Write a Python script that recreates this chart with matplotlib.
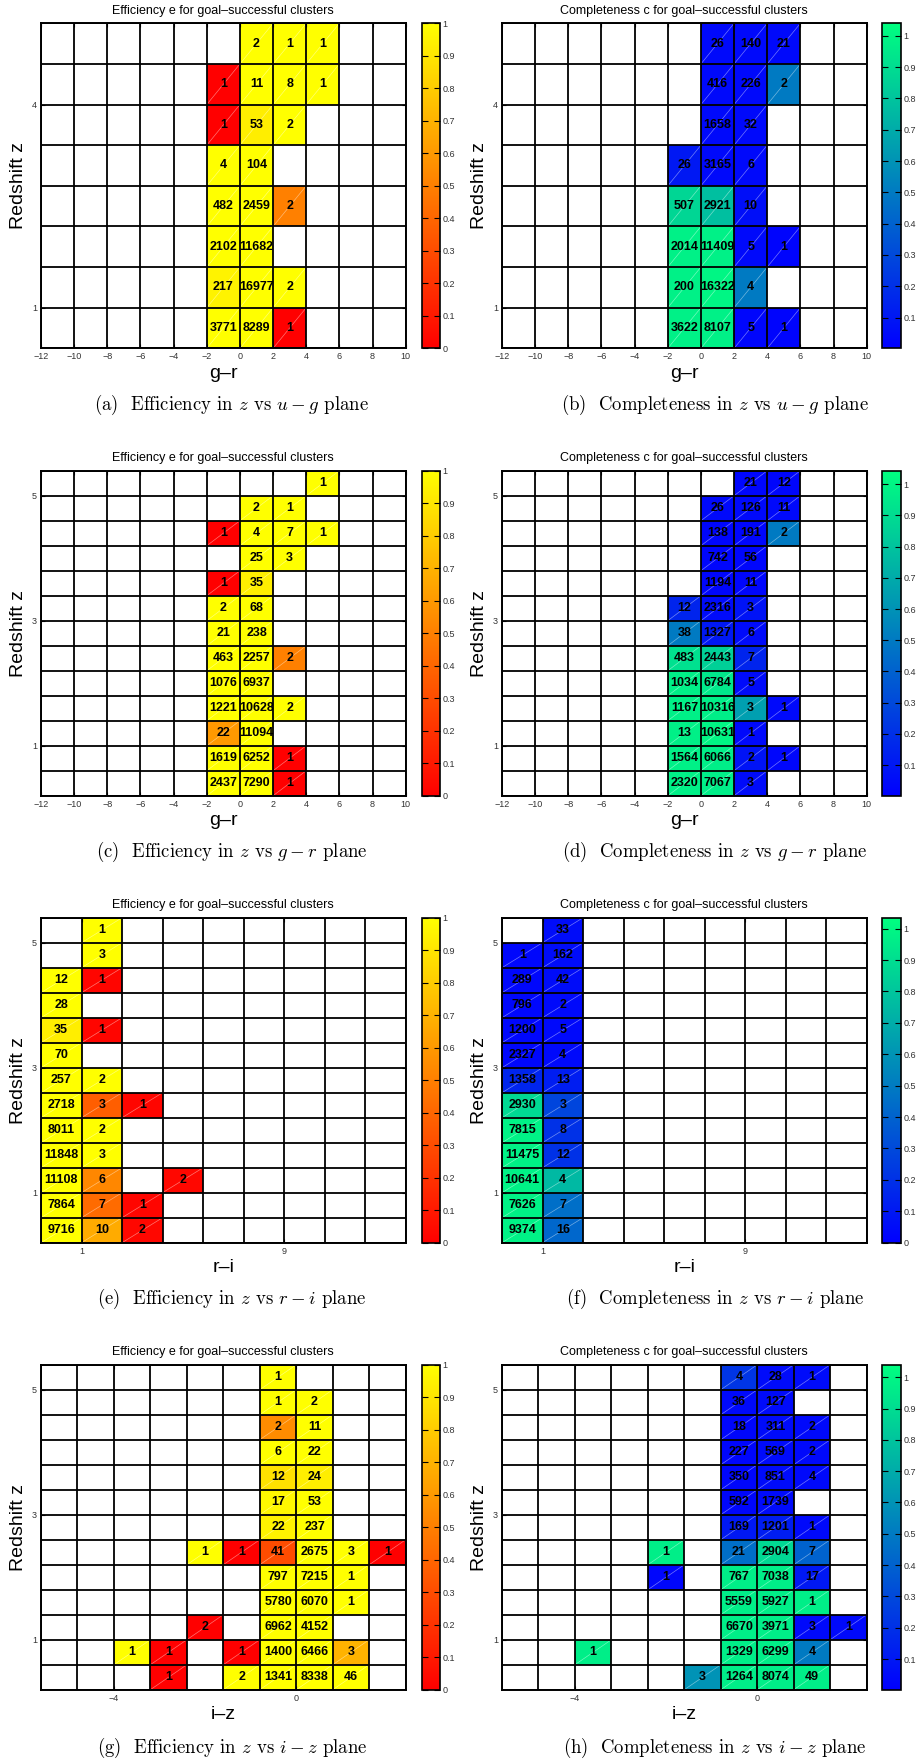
import numpy as np
import matplotlib
matplotlib.use("Agg")
import matplotlib.pyplot as plt

plt.rcParams['font.family'] = ['Liberation Sans', 'DejaVu Sans']
plt.rcParams['mathtext.fontset'] = 'cm'

# ---------------- data ----------------
# bin edges of each panel (colour on x, redshift z on y)
ug_xedges = [-12, -10, -8, -6, -4, -2, 0, 2, 4, 6, 8, 10]
ug_zedges = [0.4, 1.0, 1.6, 2.2, 2.8, 3.4, 4.0, 4.6, 5.2]
gr_xedges = [-12, -10, -8, -6, -4, -2, 0, 2, 4, 6, 8, 10]
fine_zedges = [0.2, 0.6, 1.0, 1.4, 1.8, 2.2, 2.6, 3.0, 3.4, 3.8, 4.2, 4.6, 5.0, 5.4]
ri_xedges = [-0.6, 1.0, 2.6, 4.2, 5.8, 7.4, 9.0, 10.6, 12.2, 13.8]
iz_xedges = [-5.6, -4.8, -4.0, -3.2, -2.4, -1.6, -0.8, 0.0, 0.8, 1.6, 2.4]

# populated colour bins (left edges); grids below list rows top -> bottom
ug_cols = [-2, 0, 2, 4]
gr_cols = [-2, 0, 2, 4]
ri_cols = [-0.6, 1.0, 2.6, 4.2]
iz_cols = [-4.0, -3.2, -2.4, -1.6, -0.8, 0.0, 0.8, 1.6]

# (a) efficiency, u-g
a_n = [[0, 2, 1, 1], [1, 11, 8, 1], [1, 53, 2, 0], [4, 104, 0, 0],
       [482, 2459, 2, 0], [2102, 11682, 0, 0], [217, 16977, 2, 0], [3771, 8289, 1, 0]]
a_e = [[None, 1, 1, 1], [0.0, 1, 1, 1], [0.0, 0.93, 1, None], [1, 1, None, None],
       [1, 1, 0.5, None], [1, 1, None, None], [0.95, 1, 1, None], [1, 1, 0.0, None]]

# (b) completeness, u-g
b_n = [[0, 26, 140, 21], [0, 416, 226, 2], [0, 1658, 32, 0], [26, 3165, 6, 0],
       [507, 2921, 10, 0], [2014, 11409, 5, 1], [200, 16322, 4, 0], [3622, 8107, 5, 1]]
b_c = [[None, 0.04, 0.04, 0.04], [None, 0.04, 0.04, 0.5], [None, 0.04, 0.04, None],
       [0.1, 0.04, 0.04, None], [0.87, 0.78, 0.06, None], [0.98, 0.98, 0.04, 0.02],
       [0.98, 1.0, 0.5, None], [0.98, 0.98, 0.03, 0.02]]

# (c) efficiency, g-r
c_n = [[0, 0, 0, 1], [0, 2, 1, 0], [1, 4, 7, 1], [0, 25, 3, 0], [1, 35, 0, 0],
       [2, 68, 0, 0], [21, 238, 0, 0], [463, 2257, 2, 0], [1076, 6937, 0, 0],
       [1221, 10628, 2, 0], [22, 11094, 0, 0], [1619, 6252, 1, 0], [2437, 7290, 1, 0]]
c_e = [[None, None, None, 1], [None, 1, 1, None], [0.0, 1, 1, 1], [None, 1, 1, None],
       [0.0, 0.93, None, None], [1, 1, None, None], [1, 1, None, None], [1, 1, 0.5, None],
       [1, 1, None, None], [1, 1, 1, None], [0.6, 1, None, None], [1, 1, 0.0, None],
       [1, 1, 0.0, None]]

# (d) completeness, g-r
d_n = [[0, 0, 21, 12], [0, 26, 126, 11], [0, 138, 191, 2], [0, 742, 56, 0],
       [0, 1194, 11, 0], [12, 2316, 3, 0], [38, 1327, 6, 0], [483, 2443, 7, 0],
       [1034, 6784, 5, 0], [1167, 10316, 3, 1], [13, 10631, 1, 0], [1564, 6066, 2, 1],
       [2320, 7067, 3, 0]]
d_c = [[None, None, 0.03, 0.03], [None, 0.04, 0.04, 0.04], [None, 0.03, 0.03, 0.5],
       [None, 0.03, 0.03, None], [None, 0.03, 0.03, None], [0.15, 0.05, 0.08, None],
       [0.5, 0.1, 0.05, None], [0.92, 0.85, 0.15, None], [0.98, 0.95, 0.05, None],
       [0.98, 0.97, 0.65, 0.04], [0.98, 1.0, 0.04, None], [0.98, 0.97, 0.08, 0.03],
       [0.98, 0.97, 0.05, None]]

# (e) efficiency, r-i
e_n = [[0, 1, 0, 0], [0, 3, 0, 0], [12, 1, 0, 0], [28, 0, 0, 0], [35, 1, 0, 0],
       [70, 0, 0, 0], [257, 2, 0, 0], [2718, 3, 1, 0], [8011, 2, 0, 0],
       [11848, 3, 0, 0], [11108, 6, 0, 2], [7864, 7, 1, 0], [9716, 10, 2, 0]]
e_e = [[None, 1, None, None], [None, 1, None, None], [1, 0.02, None, None],
       [1, None, None, None], [0.93, 0.02, None, None], [1, None, None, None],
       [1, 1, None, None], [1, 0.37, 0.02, None], [1, 1, None, None], [1, 1, None, None],
       [1, 0.53, None, 0.03], [1, 0.42, 0.02, None], [1, 0.67, 0.03, None]]

# (f) completeness, r-i
f_n = [[0, 33, 0, 0], [1, 162, 0, 0], [289, 42, 0, 0], [796, 2, 0, 0], [1200, 5, 0, 0],
       [2327, 4, 0, 0], [1358, 13, 0, 0], [2930, 3, 0, 0], [7815, 8, 0, 0],
       [11475, 12, 0, 0], [10641, 4, 0, 0], [7626, 7, 0, 0], [9374, 16, 0, 0]]
f_c = [[None, 0.05, None, None], [0.03, 0.05, None, None], [0.03, 0.05, None, None],
       [0.03, 0.04, None, None], [0.03, 0.04, None, None], [0.03, 0.04, None, None],
       [0.15, 0.12, None, None], [0.88, 0.28, None, None], [0.98, 0.2, None, None],
       [0.98, 0.2, None, None], [0.98, 0.75, None, None], [0.98, 0.45, None, None],
       [0.98, 0.42, None, None]]

# (g) efficiency, i-z
g_n = [[0, 0, 0, 0, 1, 0, 0, 0], [0, 0, 0, 0, 1, 2, 0, 0], [0, 0, 0, 0, 2, 11, 0, 0],
       [0, 0, 0, 0, 6, 22, 0, 0], [0, 0, 0, 0, 12, 24, 0, 0], [0, 0, 0, 0, 17, 53, 0, 0],
       [0, 0, 0, 0, 22, 237, 0, 0], [0, 0, 1, 1, 41, 2675, 3, 1],
       [0, 0, 0, 0, 797, 7215, 1, 0], [0, 0, 0, 0, 5780, 6070, 1, 0],
       [0, 0, 2, 0, 6962, 4152, 0, 0], [1, 1, 0, 1, 1400, 6466, 3, 0],
       [0, 1, 0, 2, 1341, 8338, 46, 0]]
g_e = [[None, None, None, None, 1, None, None, None],
       [None, None, None, None, 1, 1, None, None],
       [None, None, None, None, 0.55, 1, None, None],
       [None, None, None, None, 1, 1, None, None],
       [None, None, None, None, 0.88, 0.93, None, None],
       [None, None, None, None, 0.97, 1, None, None],
       [None, None, None, None, 0.95, 1, None, None],
       [None, None, 1, 0.0, 0.3, 1, 1, 0.0],
       [None, None, None, None, 1, 1, 1, None],
       [None, None, None, None, 1, 1, 1, None],
       [None, None, 0.0, None, 1, 1, None, None],
       [1, 0.0, None, 0.0, 1, 1, 0.7, None],
       [None, 0.0, None, 1, 1, 1, 1, None]]

# (h) completeness, i-z
h_n = [[0, 0, 0, 0, 4, 28, 1, 0], [0, 0, 0, 0, 36, 127, 0, 0], [0, 0, 0, 0, 18, 311, 2, 0],
       [0, 0, 0, 0, 227, 569, 2, 0], [0, 0, 0, 0, 350, 851, 4, 0],
       [0, 0, 0, 0, 592, 1739, 0, 0], [0, 0, 0, 0, 169, 1201, 1, 0],
       [0, 0, 1, 0, 21, 2904, 7, 0], [0, 0, 1, 0, 767, 7038, 17, 0],
       [0, 0, 0, 0, 5559, 5927, 1, 0], [0, 0, 0, 0, 6670, 3971, 3, 1],
       [1, 0, 0, 0, 1329, 6299, 4, 0], [0, 0, 0, 3, 1264, 8074, 49, 0]]
h_c = [[None, None, None, None, 0.22, 0.05, 0.05, None],
       [None, None, None, None, 0.04, 0.05, None, None],
       [None, None, None, None, 0.03, 0.05, 0.04, None],
       [None, None, None, None, 0.03, 0.05, 0.04, None],
       [None, None, None, None, 0.03, 0.05, 0.04, None],
       [None, None, None, None, 0.03, 0.05, None, None],
       [None, None, None, None, 0.1, 0.12, 0.04, None],
       [None, None, 0.97, None, 0.45, 0.88, 0.4, None],
       [None, None, 0.03, None, 0.97, 0.97, 0.1, None],
       [None, None, None, None, 0.97, 0.97, 0.97, None],
       [None, None, None, None, 0.97, 0.97, 0.04, 0.04],
       [0.97, None, None, None, 0.97, 0.97, 0.5, None],
       [None, None, None, 0.6, 0.97, 0.97, 0.97, None]]

eff_title = "Efficiency e for goal\u2013successful clusters"
comp_title = "Completeness c for goal\u2013successful clusters"
captions = [r"(a)  Efficiency in $z$ vs $u-g$ plane",
            r"(b)  Completeness in $z$ vs $u-g$ plane",
            r"(c)  Efficiency in $z$ vs $g-r$ plane",
            r"(d)  Completeness in $z$ vs $g-r$ plane",
            r"(e)  Efficiency in $z$ vs $r-i$ plane",
            r"(f)  Completeness in $z$ vs $r-i$ plane",
            r"(g)  Efficiency in $z$ vs $i-z$ plane",
            r"(h)  Completeness in $z$ vs $i-z$ plane"]


def to_grid(xedges, zedges, cols, rows):
    # place the listed rows (top -> bottom) into the full bin grid
    nz = len(zedges) - 1
    grid = np.full((nz, len(xedges) - 1), np.nan)
    xe = np.array(xedges, dtype=float)
    for i, row in enumerate(rows):
        for c, val in zip(cols, row):
            if val is None:
                continue
            j = int(np.argmin(np.abs(xe - c)))
            grid[nz - 1 - i, j] = val
    return grid


def draw(ax, cax, xedges, zedges, cols, counts, vals, cmap, clim, cticks,
         title, xlabel, xticks, zticks):
    n = to_grid(xedges, zedges, cols, counts)
    v = to_grid(xedges, zedges, cols, vals)
    cm = plt.get_cmap(cmap).copy()
    cm.set_bad('white')
    mesh = ax.pcolormesh(xedges, zedges, np.ma.masked_invalid(v), cmap=cm,
                         vmin=clim[0], vmax=clim[1])
    for iz in range(n.shape[0]):
        for ix in range(n.shape[1]):
            if np.isnan(v[iz, ix]) or n[iz, ix] == 0:
                continue
            x0, x1 = xedges[ix], xedges[ix + 1]
            z0, z1 = zedges[iz], zedges[iz + 1]
            # faint diagonal seam like the original renderer
            ax.plot([x0, x1], [z0, z1], color='white', lw=0.5, alpha=0.45, zorder=2)
            ax.text((x0 + x1) / 2, (z0 + z1) / 2, "%d" % n[iz, ix], ha='center',
                    va='center', fontsize=9, fontweight='bold', zorder=4)
    ax.vlines(xedges, zedges[0], zedges[-1], color='k', lw=1.3, zorder=3)
    ax.hlines(zedges, xedges[0], xedges[-1], color='k', lw=1.3, zorder=3)
    ax.set_xlim(xedges[0], xedges[-1])
    ax.set_ylim(zedges[0], zedges[-1])
    ax.set_xticks(xticks)
    ax.set_yticks(zticks)
    ax.tick_params(direction='in', length=3, labelsize=6.5, labelcolor='#333333',
                   top=True, right=True, pad=3)
    for s in ax.spines.values():
        s.set_linewidth(1.4)
    ax.text(0.5, 1.039, title, transform=ax.transAxes, ha='center', va='center',
            fontsize=9)
    ax.text(0.5, -0.077, xlabel, transform=ax.transAxes, ha='center', va='center',
            fontsize=14)
    ax.text(-0.063, 0.5, "Redshift z", transform=ax.transAxes, ha='center',
            va='center', fontsize=14, rotation=90)
    cb = plt.gcf().colorbar(mesh, cax=cax, ticks=cticks)
    cb.ax.set_yticklabels(["%g" % t for t in cticks])
    cb.outline.set_linewidth(1.2)
    cb.ax.tick_params(direction='in', left=True, right=True, length=4,
                      labelsize=6.5, labelcolor='#333333', pad=2)


W, H = 917, 1759
fig = plt.figure(figsize=(W / 100, H / 100), dpi=100)

eff_ticks = [0, 0.1, 0.2, 0.3, 0.4, 0.5, 0.6, 0.7, 0.8, 0.9, 1]
comp_ticks = [0.1, 0.2, 0.3, 0.4, 0.5, 0.6, 0.7, 0.8, 0.9, 1]
comp_ticks0 = [0, 0.1, 0.2, 0.3, 0.4, 0.5, 0.6, 0.7, 0.8, 0.9, 1]

panels = [
    (ug_xedges, ug_zedges, ug_cols, a_n, a_e, 'autumn', (0, 1), eff_ticks, eff_title,
     "g\u2013r", list(range(-12, 11, 2)), [1, 4]),
    (ug_xedges, ug_zedges, ug_cols, b_n, b_c, 'winter', (0.002, 1.04), comp_ticks, comp_title,
     "g\u2013r", list(range(-12, 11, 2)), [1, 4]),
    (gr_xedges, fine_zedges, gr_cols, c_n, c_e, 'autumn', (0, 1), eff_ticks, eff_title,
     "g\u2013r", list(range(-12, 11, 2)), [1, 3, 5]),
    (gr_xedges, fine_zedges, gr_cols, d_n, d_c, 'winter', (0.002, 1.043), comp_ticks, comp_title,
     "g\u2013r", list(range(-12, 11, 2)), [1, 3, 5]),
    (ri_xedges, fine_zedges, ri_cols, e_n, e_e, 'autumn', (0, 1), eff_ticks, eff_title,
     "r\u2013i", [1, 9], [1, 3, 5]),
    (ri_xedges, fine_zedges, ri_cols, f_n, f_c, 'winter', (0, 1.035), comp_ticks0, comp_title,
     "r\u2013i", [1, 9], [1, 3, 5]),
    (iz_xedges, fine_zedges, iz_cols, g_n, g_e, 'autumn', (0, 1), eff_ticks, eff_title,
     "i\u2013z", [-4, 0], [1, 3, 5]),
    (iz_xedges, fine_zedges, iz_cols, h_n, h_c, 'winter', (0.002, 1.04), comp_ticks, comp_title,
     "i\u2013z", [-4, 0], [1, 3, 5]),
]

tops = [23.3, 470.7, 917.7, 1364.7]
cap_y = [405, 852, 1299, 1748]
ax_left = [41, 502]
cb_left = [421.7, 882.3]
cap_x = [232, 715]
axw, axh = 364.7, 325.0

for k, p in enumerate(panels):
    r, c = k // 2, k % 2
    bottom = 1 - (tops[r] + axh) / H
    ax = fig.add_axes([ax_left[c] / W, bottom, axw / W, axh / H])
    cax = fig.add_axes([cb_left[c] / W, bottom, 18.3 / W, axh / H])
    draw(ax, cax, *p)
    fig.text(cap_x[c] / W, 1 - cap_y[r] / H, captions[k], ha='center', va='center',
             fontsize=13.5, family='cmr10')

fig.savefig("out.png", dpi=100)
